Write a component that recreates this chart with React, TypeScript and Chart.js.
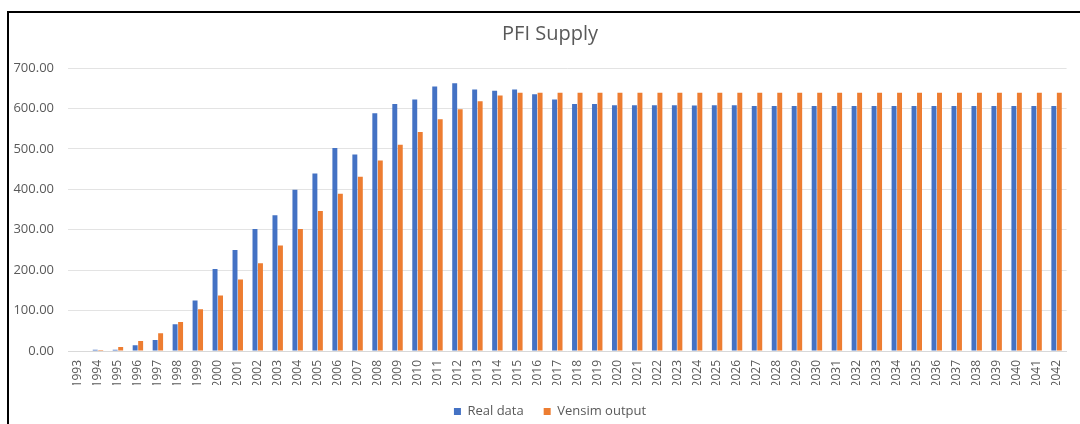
import React, { useEffect, useRef } from "react";
import { Chart, registerables } from "chart.js";

Chart.register(...registerables);

const years = [
  "1993", "1994", "1995", "1996", "1997", "1998", "1999", "2000", "2001", "2002",
  "2003", "2004", "2005", "2006", "2007", "2008", "2009", "2010", "2011", "2012",
  "2013", "2014", "2015", "2016", "2017", "2018", "2019", "2020", "2021", "2022",
  "2023", "2024", "2025", "2026", "2027", "2028", "2029", "2030", "2031", "2032",
  "2033", "2034", "2035", "2036", "2037", "2038", "2039", "2040", "2041", "2042",
];

const realData = [
  0, 3, 3, 14, 27, 66, 125, 203, 250, 302,
  336, 399, 439, 502, 486, 588, 611, 622, 654, 662,
  647, 644, 647, 635, 622, 611, 611, 608, 608, 608,
  608, 607, 608, 608, 606, 606, 606, 606, 606, 606,
  606, 606, 606, 606, 606, 606, 606, 606, 606, 606,
];

const vensimOutput = [
  0, 2.5, 10, 25, 44, 72, 103, 137, 177, 217,
  261, 302, 346, 389, 431, 471, 510, 542, 573, 598,
  618, 632, 639, 639, 639, 639, 639, 639, 639, 639,
  639, 639, 639, 639, 639, 639, 639, 639, 639, 639,
  639, 639, 639, 639, 639, 639, 639, 639, 639, 639,
];

const seriesNames = ["Real data", "Vensim output"];
const chartTitle = "PFI Supply";

const FONT = "'Open Sans', 'Liberation Sans', Arial, sans-serif";
const TEXT = "#595959";

export default function App() {
  const ref = useRef<HTMLCanvasElement | null>(null);

  useEffect(() => {
    if (!ref.current) return;
    const chart = new Chart(ref.current, {
      type: "bar",
      data: {
        labels: years,
        datasets: [
          {
            label: seriesNames[0],
            data: realData,
            backgroundColor: "#4472C4",
            categoryPercentage: 0.55,
            barPercentage: 0.9,
          },
          {
            label: seriesNames[1],
            data: vensimOutput,
            backgroundColor: "#ED7D31",
            categoryPercentage: 0.55,
            barPercentage: 0.9,
          },
        ],
      },
      options: {
        responsive: false,
        animation: false,
        layout: { padding: { left: 22, right: 2, top: 12, bottom: -4 } },
        plugins: {
          title: {
            display: true,
            text: chartTitle,
            color: TEXT,
            font: { family: FONT, size: 20, weight: "normal" },
            padding: { top: 10, bottom: 22 },
          },
          legend: {
            position: "bottom",
            labels: {
              boxWidth: 7,
              boxHeight: 7,
              padding: 20,
              color: TEXT,
              font: { family: FONT, size: 13 },
            },
          },
          tooltip: { enabled: false },
        },
        scales: {
          x: {
            grid: { display: false, drawTicks: false },
            border: { display: true, color: "#d9d9d9", width: 1 },
            ticks: {
              color: TEXT,
              font: { family: FONT, size: 12 },
              minRotation: 90,
              maxRotation: 90,
              autoSkip: false,
              padding: 9,
            },
            afterFit: (scale: any) => {
              scale.height = 34;
            },
          },
          y: {
            min: 0,
            max: 700,
            grid: { color: "#e3e3e3", drawTicks: false, lineWidth: 1 },
            border: { display: false },
            ticks: {
              stepSize: 100,
              color: TEXT,
              font: { family: FONT, size: 13 },
              padding: 14,
              callback: (v: any) => Number(v).toFixed(2),
            },
            afterFit: (scale: any) => {
              scale.width = 46;
            },
            afterUpdate: (scale: any) => {
              scale._computeLabelArea = () => undefined;
            },
          },
        },
      },
    });
    return () => chart.destroy();
  }, []);

  return (
    <div
      style={{
        position: "fixed",
        left: 0,
        top: 0,
        width: 1080,
        height: 424,
        background: "#fff",
        overflow: "hidden",
      }}
    >
      <canvas
        ref={ref}
        width={1080}
        height={424}
        style={{ position: "absolute", left: 0, top: 0, width: 1080, height: 424 }}
      />
      <div
        style={{
          position: "absolute",
          left: 7,
          top: 11,
          right: -20,
          bottom: -20,
          borderTop: "2px solid #000",
          borderLeft: "2px solid #000",
          pointerEvents: "none",
        }}
      />
    </div>
  );
}
